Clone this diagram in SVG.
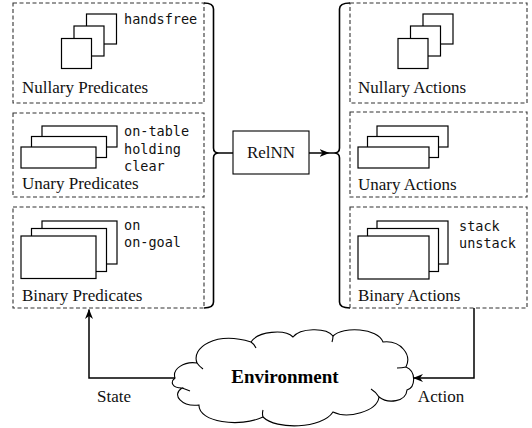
<svg xmlns="http://www.w3.org/2000/svg" width="532" height="428" viewBox="0 0 532 428">
<style>
.grp{fill:none;stroke:#333;stroke-width:1.1;stroke-dasharray:4 2.5}
.card{fill:#fff;stroke:#000;stroke-width:1.2}
.lbl{font-family:"Liberation Serif","Times New Roman",serif;font-size:17px;fill:#111}
.mono{font-family:"DejaVu Sans Mono",monospace;font-size:13.5px;fill:#111}
.br{fill:none;stroke:#000;stroke-width:1.6}
.ln{fill:none;stroke:#000;stroke-width:1.5}
</style>
<defs>
<marker id="ah" viewBox="0 0 10 8" refX="9.5" refY="4" markerWidth="10" markerHeight="8" markerUnits="userSpaceOnUse" orient="auto">
<path d="M0,0 L10,4 L0,8 L3,4 Z" fill="#000"/>
</marker>
</defs>
<rect width="532" height="428" fill="#fff"/>

<g id="nullary-predicates">
<rect class="grp" x="13" y="3" width="191" height="100"/>
<rect class="card" x="86.5" y="14" width="30" height="30"/>
<rect class="card" x="74" y="26" width="30" height="30"/>
<rect class="card" x="61.5" y="38.5" width="30" height="30"/>
<text class="mono" x="124" y="24">handsfree</text>
<text class="lbl" x="22" y="93">Nullary Predicates</text>
</g>
<g id="unary-predicates">
<rect class="grp" x="13" y="113" width="191" height="84"/>
<rect class="card" x="42" y="126" width="75" height="21"/>
<rect class="card" x="31.5" y="136.5" width="75" height="21"/>
<rect class="card" x="21" y="147" width="75" height="21"/>
<text class="mono" x="124" y="136">on-table</text>
<text class="mono" x="124" y="153.5">holding</text>
<text class="mono" x="124" y="171">clear</text>
<text class="lbl" x="22" y="189">Unary Predicates</text>
</g>
<g id="binary-predicates">
<rect class="grp" x="13" y="207" width="191" height="101"/>
<rect class="card" x="42" y="221" width="75" height="43"/>
<rect class="card" x="31.5" y="228.5" width="75" height="43"/>
<rect class="card" x="21" y="236" width="75" height="42.5"/>
<text class="mono" x="124" y="230">on</text>
<text class="mono" x="124" y="247">on-goal</text>
<text class="lbl" x="22" y="301">Binary Predicates</text>
</g>

<g id="nullary-actions">
<rect class="grp" x="350" y="3" width="177" height="100"/>
<rect class="card" x="423" y="14" width="30" height="30"/>
<rect class="card" x="410.5" y="26" width="30" height="30"/>
<rect class="card" x="398" y="38.5" width="30" height="30"/>
<text class="lbl" x="358" y="93">Nullary Actions</text>
</g>
<g id="unary-actions">
<rect class="grp" x="350" y="112" width="177" height="85"/>
<rect class="card" x="377" y="126" width="71" height="21"/>
<rect class="card" x="367.5" y="136.5" width="71" height="21"/>
<rect class="card" x="358" y="147" width="71" height="21"/>
<text class="lbl" x="358" y="190">Unary Actions</text>
</g>
<g id="binary-actions">
<rect class="grp" x="350" y="207" width="177" height="101"/>
<rect class="card" x="377" y="221" width="71" height="43"/>
<rect class="card" x="367.5" y="228.5" width="71" height="43"/>
<rect class="card" x="358" y="236" width="71" height="43"/>
<text class="mono" x="459" y="231">stack</text>
<text class="mono" x="459" y="248">unstack</text>
<text class="lbl" x="358" y="301">Binary Actions</text>
</g>

<g id="relnn">
<rect x="233" y="131" width="76" height="43" fill="#fff" stroke="#000" stroke-width="1.1"/>
<text class="lbl" x="271" y="158" text-anchor="middle">RelNN</text>
</g>

<g id="environment">
<path d="M175,378 C172,369 184,361 197,363 C191,348 215,331 251,342 C258,331 285,329 293,337 C300,328 326,327 333,336 C343,326 378,328 383,342 C401,340 412,355 406,367 C416,371 416,387 407,390 C406,402 388,404 379,397 C377,412 347,419 333,412 C322,429 276,430 263,417 C240,428 198,422 199,405 C182,407 171,395 182,388 C172,388 170,382 175,378 Z" fill="#fff" stroke="#000" stroke-width="1.1"/>
<path d="M197,363 Q199,366 203,369 M251,342 Q254,344 256,348 M333,336 Q333,339 332,342 M406,367 Q402,368 397,368 M379,397 Q376,392 371,389 M263,417 Q262,414 263,410 M182,388 Q185,389 190,391" fill="none" stroke="#000" stroke-width="1.1"/>
<text x="285" y="383" text-anchor="middle" font-family="Liberation Serif,'Times New Roman',serif" font-size="19" font-weight="bold" fill="#000">Environment</text>
</g>

<g id="connectors">
<path class="br" d="M204,3 Q213.5,3 213.5,9 L213.5,148 Q213.5,153 219,153 Q213.5,153 213.5,158 L213.5,302 Q213.5,308 204,308"/>
<path class="br" d="M350,3 Q339.5,3 339.5,9 L339.5,148 Q339.5,153 334,153 Q339.5,153 339.5,158 L339.5,302 Q339.5,308 350,308"/>
<path class="ln" d="M219,153 L233,153"/>
<path class="ln" d="M309,153 L329,153" marker-end="url(#ah)"/>
<path class="ln" d="M329,153 L334,153"/>
<path class="ln" d="M175,378 L89,378 L89,309.5" marker-end="url(#ah)"/>
<path class="ln" d="M474,308 L474,378 L413.5,378" marker-end="url(#ah)"/>
<text class="lbl" x="114" y="402" text-anchor="middle">State</text>
<text class="lbl" x="441" y="402" text-anchor="middle">Action</text>
</g>
</svg>
